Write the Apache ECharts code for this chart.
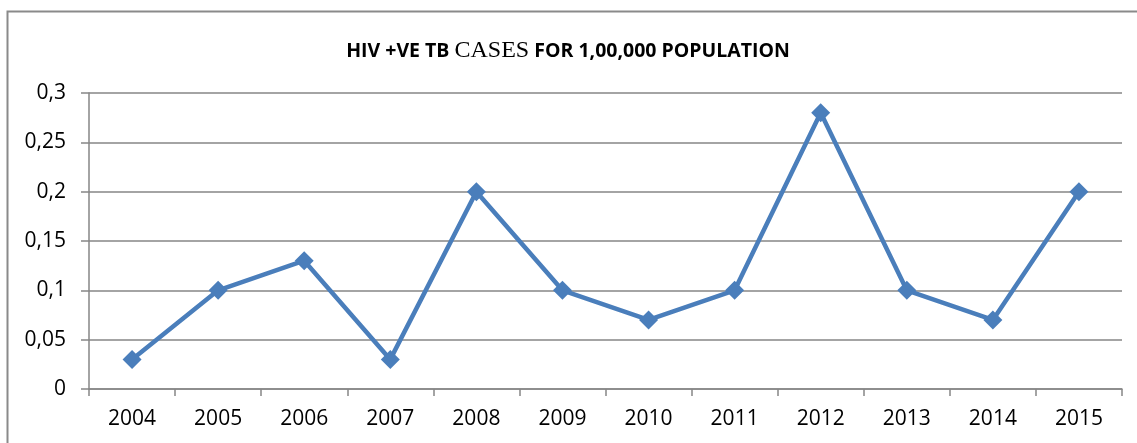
<!DOCTYPE html>
<html><head><meta charset="utf-8">
<script src="https://cdn.jsdelivr.net/npm/echarts@6/dist/echarts.min.js"></script>
<style>html,body{margin:0;padding:0;background:#fff}#c{width:1137px;height:443px}</style>
</head><body><div id="c"></div>
<script>
const categories = ['2004','2005','2006','2007','2008','2009','2010','2011','2012','2013','2014','2015'];
const values = [0.03, 0.1, 0.13, 0.03, 0.2, 0.1, 0.07, 0.1, 0.28, 0.1, 0.07, 0.2];
const yTickLabels = ['0','0,05','0,1','0,15','0,2','0,25','0,3'];

const chart = echarts.init(document.getElementById('c'));
const F = '"Open Sans", "Liberation Sans", sans-serif';
chart.setOption({
  animation: false,
  backgroundColor: '#fff',
  graphic: [{
    type: 'rect', silent: true,
    shape: { x: 7.5, y: 11.5, width: 1300, height: 600 },
    style: { fill: 'none', stroke: '#8a8a8a', lineWidth: 2 }
  }],
  title: {
    text: '{a|HIV +VE TB }{b|CASES}{a| FOR 1,00,000 POPULATION}',
    left: 563, top: 34, textAlign: 'center',
    textStyle: {
      rich: {
        a: { fontFamily: F, fontWeight: 'bold', fontSize: 19.5, color: '#000' },
        b: { fontFamily: '"Liberation Serif", serif', fontWeight: 'normal', fontSize: 24, color: '#000' }
      }
    }
  },
  grid: { left: 89, right: 15, top: 93, bottom: 54 },
  xAxis: {
    type: 'category', data: categories, boundaryGap: true,
    axisLine: { lineStyle: { color: '#868686', width: 1.5 } },
    axisTick: { show: true, length: 7, alignWithLabel: false, lineStyle: { color: '#868686', width: 1.5 } },
    axisLabel: { color: '#000', fontFamily: F, fontSize: 21, margin: 20 }
  },
  yAxis: {
    type: 'value', min: 0, max: 0.3, interval: 0.05,
    axisLine: { show: true, lineStyle: { color: '#868686', width: 1.5 } },
    axisTick: { show: true, length: 8, lineStyle: { color: '#868686', width: 1.5 } },
    splitLine: { lineStyle: { color: '#868686', width: 1.5 } },
    axisLabel: {
      color: '#000', fontFamily: F, fontSize: 21, margin: 23,
      formatter: (v) => yTickLabels[Math.round(v / 0.05)]
    }
  },
  series: [{
    type: 'line', data: values,
    symbol: 'diamond', symbolSize: 19,
    lineStyle: { color: '#4A7EBB', width: 4.5 },
    itemStyle: { color: '#4A7EBB' }
  }]
});
</script></body></html>
